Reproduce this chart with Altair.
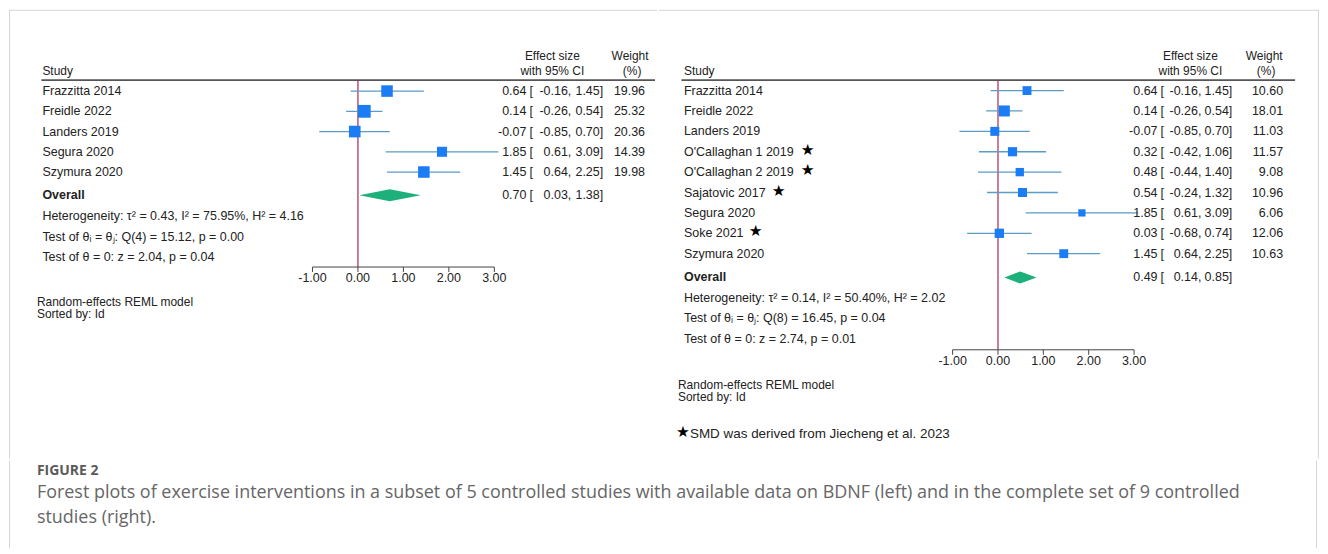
import altair as alt
import pandas as pd

FONT = "Liberation Sans"
TXT = "#222222"
CI_COLOR = "#5a9cc4"
SQ_COLOR = "#1c7cf4"
DIA_COLOR = "#1db07a"
ZERO_COLOR = "#a8294a"

# ---------------- data ----------------
L_studies = ["Frazzitta 2014", "Freidle 2022", "Landers 2019", "Segura 2020", "Szymura 2020"]
L_es = [0.64, 0.14, -0.07, 1.85, 1.45]
L_lo = [-0.16, -0.26, -0.85, 0.61, 0.64]
L_hi = [1.45, 0.54, 0.70, 3.09, 2.25]
L_w = [19.96, 25.32, 20.36, 14.39, 19.98]
L_star = [False, False, False, False, False]
L_overall = [0.70, 0.03, 1.38]
L_stats = ["Heterogeneity: \u03c4\u00b2 = 0.43, I\u00b2 = 75.95%, H\u00b2 = 4.16",
           "Test of \u03b8\u1d62 = \u03b8\u2c7c: Q(4) = 15.12, p = 0.00",
           "Test of \u03b8 = 0: z = 2.04, p = 0.04"]

R_studies = ["Frazzitta 2014", "Freidle 2022", "Landers 2019", "O'Callaghan 1 2019",
             "O'Callaghan 2 2019", "Sajatovic 2017", "Segura 2020", "Soke 2021", "Szymura 2020"]
R_es = [0.64, 0.14, -0.07, 0.32, 0.48, 0.54, 1.85, 0.03, 1.45]
R_lo = [-0.16, -0.26, -0.85, -0.42, -0.44, -0.24, 0.61, -0.68, 0.64]
R_hi = [1.45, 0.54, 0.70, 1.06, 1.40, 1.32, 3.09, 0.74, 2.25]
R_w = [10.60, 18.01, 11.03, 11.57, 9.08, 10.96, 6.06, 12.06, 10.63]
R_star = [False, False, False, True, True, True, False, True, False]
R_overall = [0.49, 0.14, 0.85]
R_stats = ["Heterogeneity: \u03c4\u00b2 = 0.14, I\u00b2 = 50.40%, H\u00b2 = 2.02",
           "Test of \u03b8\u1d62 = \u03b8\u2c7c: Q(8) = 16.45, p = 0.04",
           "Test of \u03b8 = 0: z = 2.74, p = 0.01"]

TICKS = [-1, 0, 1, 2, 3]
TICK_LABELS = ["-1.00", "0.00", "1.00", "2.00", "3.00"]
MODEL_NOTES = ["Random-effects REML model", "Sorted by: Id"]
FOOTNOTE = "SMD was derived from Jiecheng et al. 2023"
CAP_TITLE = "FIGURE 2"
CAP_LINES = ["Forest plots of exercise interventions in a subset of 5 controlled studies with available data on BDNF (left) and in the complete set of 9 controlled",
             "studies (right)."]

TOP_H = 450
CAP_H = 88
BORDER = "#d6d6d6"
FS = 12.5


def panel(studies, es, lo, hi, w, stars, overall, stats, lay):
    ox, oy = lay["ox"], 8
    W = lay["width"]
    X = lambda px: px - ox
    Yp = lambda py: py - oy
    unit = lay["unit"]
    zero = X(lay["zero"])
    xscale = alt.Scale(domain=[-1, 3], range=[zero - unit, zero + 3 * unit], nice=False, zero=False)
    yscale = alt.Scale(domain=[0, TOP_H], range=[0, TOP_H], nice=False, zero=False)

    n = len(studies)
    rows_y = [Yp(lay["row_y0"] + i * lay["row_dy"]) for i in range(n)]
    df = pd.DataFrame({
        "label": studies, "es": es, "lo": lo, "hi": hi, "w": w, "y": rows_y,
        "es_txt": [f"{v:.2f}" for v in es],
        "lo_txt": [f"{v:.2f}," for v in lo],
        "hi_txt": [f"{v:.2f}]" for v in hi],
        "w_txt": [f"{v:.2f}" for v in w],
    })
    oy_ = Yp(lay["overall_y"])
    dfo = pd.DataFrame({"label": ["Overall"], "y": [oy_],
                        "es_txt": [f"{overall[0]:.2f}"], "lo_txt": [f"{overall[1]:.2f},"],
                        "hi_txt": [f"{overall[2]:.2f}]"]})
    dfall = pd.concat([df[["label", "y", "es_txt", "lo_txt", "hi_txt"]], dfo], ignore_index=True)

    Y = lambda f="y": alt.Y(f"{f}:Q", scale=yscale, axis=None)
    layers = []

    def text(data, field, xpx, align="left", bold=False, size=FS, color=TXT):
        return alt.Chart(data).mark_text(align=align, baseline="middle", font=FONT, fontSize=size,
                                         color=color, fontWeight="bold" if bold else "normal").encode(
            x=alt.value(xpx), y=Y(), text=f"{field}:N")

    # header
    hdr = lambda s, xpx, ypx, align="center": alt.Chart(pd.DataFrame({"t": [s]})).mark_text(
        align=align, baseline="middle", font=FONT, fontSize=12, color=TXT).encode(
        x=alt.value(xpx), y=alt.value(Yp(ypx)), text="t:N")
    h1, h2 = lay["hdr_y1"], lay["hdr_y2"]
    layers += [hdr("Study", X(lay["study_x"]), h2, "left"),
               hdr("Effect size", X(lay["hdr_es"]), h1), hdr("with 95% CI", X(lay["hdr_es"]), h2),
               hdr("Weight", X(lay["hdr_w"]), h1), hdr("(%)", X(lay["hdr_w"] + 2), h2)]
    layers.append(alt.Chart(pd.DataFrame({"a": [0]})).mark_rule(color="#555555", strokeWidth=1.6).encode(
        x=alt.value(X(lay["rule_x0"])), x2=alt.value(X(lay["rule_x1"])), y=alt.value(Yp(lay["rule_y"]))))

    # zero line
    layers.append(alt.Chart(pd.DataFrame({"z": [0], "y1": [Yp(lay["rule_y"])], "y2": [Yp(lay["axis_y"])]})).mark_rule(
        color=ZERO_COLOR, strokeWidth=1.2).encode(x=alt.X("z:Q", scale=xscale, axis=None), y=Y("y1"), y2="y2:Q"))

    # CI lines and squares
    layers.append(alt.Chart(df).mark_rule(color=CI_COLOR, strokeWidth=1.3).encode(
        x=alt.X("lo:Q", scale=xscale, axis=None), x2="hi:Q", y=Y()))
    layers.append(alt.Chart(df).mark_square(color=SQ_COLOR, opacity=1, filled=True).encode(
        x=alt.X("es:Q", scale=xscale, axis=None), y=Y(),
        size=alt.Size("w:Q", scale=alt.Scale(type="linear", domain=[-3, max(w)], range=[0, lay["max_area"]]), legend=None)))

    # overall diamond
    h = 6
    dia = pd.DataFrame({"x": overall[1:2] + overall[0:1] + overall[2:3],
                        "ya": [oy_, oy_ - h, oy_], "yb": [oy_, oy_ + h, oy_]})
    dia = dia.sort_values("x")
    layers.append(alt.Chart(dia).mark_area(color=DIA_COLOR, opacity=1, orient="vertical").encode(
        x=alt.X("x:Q", scale=xscale, axis=None), y=Y("ya"), y2="yb:Q"))

    # text columns
    study_rows = dfall.iloc[:n]
    layers.append(text(study_rows, "label", X(lay["study_x"])))
    layers.append(text(dfo, "label", X(lay["study_x"]), bold=True))
    layers.append(text(dfall, "es_txt", X(lay["es_end"]), "right"))
    layers.append(text(dfall.assign(br="["), "br", X(lay["br_x"])))
    layers.append(text(dfall, "lo_txt", X(lay["lo_end"]), "right"))
    layers.append(text(dfall, "hi_txt", X(lay["hi_end"]), "right"))
    layers.append(text(df, "w_txt", X(lay["w_end"]), "right"))

    # stars
    for i, s in enumerate(stars):
        if s:
            layers.append(alt.Chart(pd.DataFrame({"t": ["\u2605"]})).mark_text(
                font="DejaVu Sans", fontSize=15.5, color="#000000", align="center", baseline="middle").encode(
                x=alt.value(X(lay["star_x"][i])), y=alt.value(rows_y[i] - 2), text="t:N"))

    # stats
    sdf = pd.DataFrame({"t": stats, "y": [Yp(lay["stats_y0"] + i * lay["stats_dy"]) for i in range(len(stats))]})
    layers.append(text(sdf, "t", X(lay["study_x"])))

    # axis
    ay = Yp(lay["axis_y"])
    tdf = pd.DataFrame({"v": TICKS, "lab": TICK_LABELS, "y": [ay] * len(TICKS),
                        "y2": [ay + 5] * len(TICKS), "yl": [ay + 11.5] * len(TICKS)})
    layers.append(alt.Chart(pd.DataFrame({"a": [TICKS[0]], "b": [TICKS[-1]], "y": [ay]})).mark_rule(
        color="#444444", strokeWidth=1).encode(x=alt.X("a:Q", scale=xscale, axis=None), x2="b:Q", y=Y()))
    layers.append(alt.Chart(tdf).mark_rule(color="#444444", strokeWidth=1).encode(
        x=alt.X("v:Q", scale=xscale, axis=None), y=Y(), y2="y2:Q"))
    layers.append(alt.Chart(tdf).mark_text(font=FONT, fontSize=FS, color=TXT, baseline="middle").encode(
        x=alt.X("v:Q", scale=xscale, axis=None), y=Y("yl"), text="lab:N"))

    # model notes
    mdf = pd.DataFrame({"t": MODEL_NOTES, "y": [Yp(lay["model_y"]), Yp(lay["model_y"] + 12)]})
    layers.append(text(mdf, "t", X(lay["note_x"]), size=12))

    if lay.get("foot_y"):
        fy = Yp(lay["foot_y"])
        layers.append(alt.Chart(pd.DataFrame({"t": ["\u2605"]})).mark_text(
            font="DejaVu Sans", fontSize=15.5, color="#000000", align="center", baseline="middle").encode(
            x=alt.value(X(lay["note_x"] + 5)), y=alt.value(fy - 2), text="t:N"))
        layers.append(alt.Chart(pd.DataFrame({"t": [FOOTNOTE]})).mark_text(
            font=FONT, fontSize=13.5, color=TXT, align="left", baseline="middle").encode(
            x=alt.value(X(lay["note_x"] + 12)), y=alt.value(fy), text="t:N"))

    # frame pieces
    layers.append(alt.Chart(pd.DataFrame({"a": [0]})).mark_rule(color=BORDER).encode(
        x=alt.value(0), x2=alt.value(W), y=alt.value(0.5)))
    edge = 0.5 if lay["side"] == "left" else W - 0.5
    layers.append(alt.Chart(pd.DataFrame({"a": [0]})).mark_rule(color=BORDER).encode(
        x=alt.value(edge), y=alt.value(0), y2=alt.value(TOP_H)))

    return alt.layer(*layers).properties(width=W, height=TOP_H)


left_lay = dict(side="left", ox=8, width=650, zero=358, unit=45.6, study_x=41.5, rule_x0=40.5, rule_x1=656,
                es_end=527, br_x=530, lo_end=572, hi_end=604, w_end=646, hdr_es=553, hdr_w=631,
                hdr_y1=54, hdr_y2=69.5, rule_y=78.5,
                row_y0=89.5, row_dy=20.3, overall_y=194, stats_y0=215, stats_dy=20.5, axis_y=266,
                model_y=301, note_x=36, max_area=165, star_x=[0] * 5)
right_lay = dict(side="right", ox=658, width=662, zero=998, unit=45.5, study_x=683, rule_x0=680.5, rule_x1=1296,
                 es_end=1158, br_x=1161, lo_end=1202, hi_end=1233, w_end=1284, hdr_es=1191, hdr_w=1265,
                 hdr_y1=54, hdr_y2=69.5, rule_y=78.5,
                 row_y0=89, row_dy=20.45, overall_y=276.5, stats_y0=297, stats_dy=20.5, axis_y=349,
                 model_y=384, note_x=677, foot_y=433, max_area=150, star_x=[0, 0, 0, 807, 807, 778, 0, 755, 0])

left = panel(L_studies, L_es, L_lo, L_hi, L_w, L_star, L_overall, L_stats, left_lay)
right = panel(R_studies, R_es, R_lo, R_hi, R_w, R_star, R_overall, R_stats, right_lay)

cap_df = pd.DataFrame({"t": CAP_LINES, "y": [491 - 458, 516 - 458]})
cap_scale = alt.Scale(domain=[0, CAP_H], range=[0, CAP_H], nice=False, zero=False)
caption = alt.layer(
    alt.Chart(pd.DataFrame({"t": [CAP_TITLE]})).mark_text(
        font="Open Sans", fontSize=14, fontWeight="bold", color="#5a5a5a", align="left", baseline="middle").encode(
        x=alt.value(28), y=alt.value(469 - 458), text="t:N"),
    alt.Chart(cap_df).mark_text(font="Open Sans", fontSize=18, color="#666666", align="left", baseline="middle").encode(
        x=alt.value(28), y=alt.Y("y:Q", scale=cap_scale, axis=None), text="t:N"),
    alt.Chart(pd.DataFrame({"a": [0]})).mark_rule(color=BORDER).encode(
        x=alt.value(0.5), y=alt.value(0), y2=alt.value(CAP_H)),
    alt.Chart(pd.DataFrame({"a": [0]})).mark_rule(color=BORDER).encode(
        x=alt.value(1311.5), y=alt.value(0), y2=alt.value(CAP_H)),
).properties(width=1312, height=CAP_H)

chart = alt.vconcat(alt.hconcat(left, right, spacing=0), caption, spacing=0).properties(
    padding=0).configure_view(stroke=None).configure_concat(spacing=0)

chart.save("out.html", embed_options={"renderer": "svg", "actions": False})
